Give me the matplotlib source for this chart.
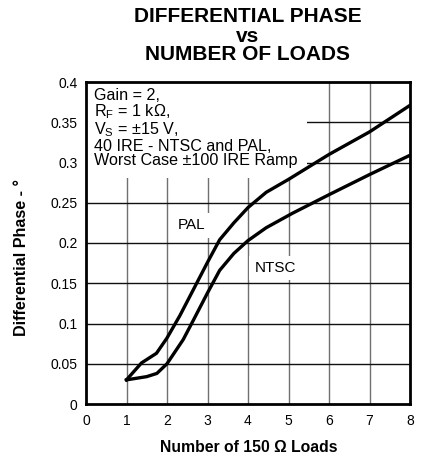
import numpy as np
import matplotlib
matplotlib.use("Agg")
from matplotlib import pyplot as plt

plt.rcParams['font.family'] = ['Liberation Sans', 'DejaVu Sans']
plt.rcParams['mathtext.fontset'] = 'custom'
plt.rcParams['mathtext.rm'] = 'Liberation Sans'
plt.rcParams['mathtext.default'] = 'regular'

# data
pal_loads = [1.0, 1.37, 1.74, 2.0, 2.32, 2.65, 3.0, 3.3, 3.65, 4.0, 4.45, 5.0, 6.0, 7.0, 8.0]
pal_phase = [0.03, 0.051, 0.063, 0.082, 0.11, 0.142, 0.176, 0.204, 0.225, 0.244, 0.263, 0.279, 0.31, 0.338, 0.371]
ntsc_loads = [1.0, 1.5, 1.75, 2.0, 2.4, 2.65, 3.0, 3.3, 3.65, 4.0, 4.45, 5.1, 6.0, 7.0, 8.0]
ntsc_phase = [0.03, 0.034, 0.038, 0.05, 0.08, 0.104, 0.138, 0.166, 0.187, 0.203, 0.219, 0.237, 0.26, 0.285, 0.309]
x_ticks = [0, 1, 2, 3, 4, 5, 6, 7, 8]
y_ticks = [0, 0.05, 0.1, 0.15, 0.2, 0.25, 0.3, 0.35, 0.4]
y_tick_labels = ['0', '0.05', '0.1', '0.15', '0.2', '0.25', '0.3', '0.35', '0.4']

fig = plt.figure(figsize=(4.29, 4.62), dpi=100)
ax = fig.add_axes([86 / 429, 58 / 462, 324 / 429, 322 / 462])

for xv in x_ticks[1:-1]:
    ax.axvline(xv, color='#707070', lw=1.0, zorder=1)
for yv in y_ticks[1:-1]:
    ax.axhline(yv, color='#101010', lw=1.0, zorder=1)

ax.plot(pal_loads, pal_phase, color='black', lw=2.4, zorder=4, solid_joinstyle='round')
ax.plot(ntsc_loads, ntsc_phase, color='black', lw=2.4, zorder=4, solid_joinstyle='round')

ax.set_xlim(0, 8)
ax.set_ylim(0, 0.4)
ax.set_xticks(x_ticks)
ax.set_yticks(y_ticks)
ax.set_yticklabels(y_tick_labels)
ax.tick_params(length=0, labelsize=10)
ax.tick_params(axis='x', pad=7)
ax.tick_params(axis='y', pad=6)
for s in ax.spines.values():
    s.set_linewidth(2.0)
    s.set_zorder(5)

box = dict(boxstyle='square,pad=0.35', facecolor='white', edgecolor='none')
note = ('Gain = 2,\n'
        'R$_{F}$ = 1 k\u03a9,\n'
        'V$_{S}$ = \u00b115 V,\n'
        '40 IRE - NTSC and PAL,\n'
        'Worst Case \u00b1100 IRE Ramp')
ax.text(0.2, 0.392, note, fontsize=11.6, va='top', ha='left', linespacing=0.95,
        bbox=dict(boxstyle='square,pad=0.6', facecolor='white', edgecolor='none'), zorder=3)
ax.text(2.6, 0.222, 'PAL', fontsize=11, ha='center', va='center', bbox=box, zorder=3)
ax.text(4.67, 0.169, 'NTSC', fontsize=11, ha='center', va='center', bbox=box, zorder=3)

fig.text(248 / 429, 1 - 16 / 462, 'DIFFERENTIAL PHASE', fontsize=15, fontweight='bold', ha='center', va='center')
fig.text(248 / 429, 1 - 37 / 462, 'vs', fontsize=15, fontweight='bold', ha='center', va='center')
fig.text(248 / 429, 1 - 55 / 462, 'NUMBER OF LOADS', fontsize=15, fontweight='bold', ha='center', va='center')

fig.text(249 / 429, 1 - 447 / 462, 'Number of 150 \u03a9 Loads', fontsize=11.3, fontweight='bold', ha='center', va='center')
fig.text(22 / 429, 1 - 257 / 462, 'Differential Phase - \u00b0', fontsize=11.6, fontweight='bold',
         ha='center', va='center', rotation=90)

fig.savefig('out.png', dpi=100)
